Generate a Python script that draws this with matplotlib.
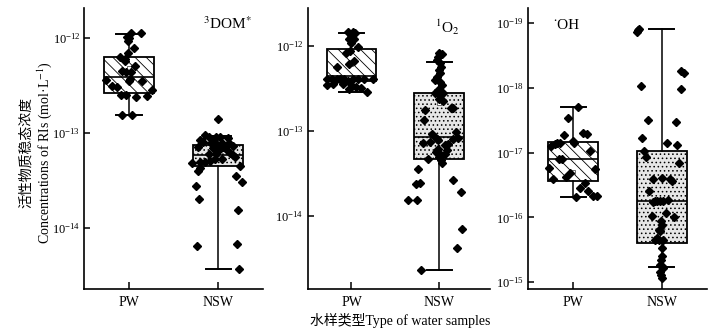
import matplotlib
matplotlib.use("Agg")
import matplotlib.pyplot as plt
from matplotlib.ticker import NullLocator

plt.rcParams["font.family"] = ["Liberation Serif", "Noto Sans CJK SC"]
plt.rcParams["mathtext.fontset"] = "stix"
plt.rcParams["hatch.linewidth"] = 0.6

categories = ["PW", "NSW"]
titles = [r"$^{3}$DOM$^{*}$", r"$^{1}$O$_{2}$", "˙OH"]

dom_ticks = [1e-14, 1e-13, 1e-12]
o2_ticks = [1e-14, 1e-13, 1e-12]
oh_ticks = [1e-19, 1e-18, 1e-17, 1e-16, 1e-15]

# box statistics: q1, median, q3, lower whisker, upper whisker, mean
dom_q1 = [0.261e-12, 0.444e-13]
dom_med = [0.39e-12, 0.583e-13]
dom_q3 = [0.632e-12, 0.755e-13]
dom_lo = [0.155e-12, 0.037e-13]
dom_hi = [1.10e-12, 0.931e-13]
dom_mean = [0.48e-12, 0.60e-13]

o2_q1 = [0.39e-12, 0.0475e-12]
o2_med = [0.442e-12, 0.085e-12]
o2_q3 = [0.914e-12, 0.284e-12]
o2_lo = [0.289e-12, 0.0023e-12]
o2_hi = [1.44e-12, 0.641e-12]
o2_mean = [0.62e-12, 0.214e-12]

oh_q1 = [6.88e-18, 9.48e-18]
oh_med = [1.245e-17, 5.64e-17]
oh_q3 = [2.76e-17, 2.52e-16]
oh_lo = [1.95e-18, 1.24e-19]
oh_hi = [4.89e-17, 5.93e-16]
oh_mean = [2.0e-17, 1.6e-16]

# individual samples (value, jitter offset)
dom_pw = [1.11e-12, 1.11e-12, 1.02e-12, 0.98e-12, 0.93e-12, 0.77e-12, 0.69e-12, 0.62e-12,
          0.60e-12, 0.565e-12, 0.50e-12, 0.45e-12, 0.44e-12, 0.44e-12, 0.37e-12, 0.36e-12,
          0.354e-12, 0.35e-12, 0.31e-12, 0.30e-12, 0.283e-12, 0.25e-12, 0.25e-12, 0.245e-12,
          0.237e-12, 0.155e-12, 0.155e-12]
dom_pw_jit = [0.026, 0.132, -0.026, 0.0, -0.008, 0.053, -0.008, -0.106, -0.045, -0.045, 0.068,
              -0.083, -0.038, 0.023, 0.011, -0.253, 0.0, 0.14, -0.189, -0.14, 0.257, -0.09,
              -0.038, 0.196, 0.083, -0.075, 0.03]
dom_nsw = [1.40e-13, 0.94e-13, 0.916e-13, 0.859e-13, 0.90e-13, 0.90e-13, 0.893e-13, 0.845e-13,
           0.811e-13, 0.78e-13, 0.767e-13, 0.78e-13, 0.792e-13, 0.737e-13, 0.719e-13, 0.69e-13,
           0.679e-13, 0.719e-13, 0.663e-13, 0.612e-13, 0.602e-13, 0.597e-13, 0.588e-13, 0.481e-13,
           0.492e-13, 0.50e-13, 0.509e-13, 0.53e-13, 0.53e-13, 0.565e-13, 0.451e-13, 0.426e-13,
           0.403e-13, 0.354e-13, 0.309e-13, 0.278e-13, 0.203e-13, 0.156e-13, 0.065e-13,
           0.068e-13, 0.037e-13]
dom_nsw_jit = [0.0, -0.143, -0.102, -0.057, -0.019, 0.019, 0.106, -0.208, -0.17, -0.075, -0.026,
               0.038, 0.125, 0.17, -0.226, -0.057, 0.019, 0.057, 0.094, 0.132, -0.102, -0.026,
               0.17, -0.29, -0.208, -0.151, -0.094, -0.038, 0.038, 0.189, 0.245, -0.208, -0.226,
               0.2, 0.264, -0.245, -0.219, 0.226, -0.234, 0.208, 0.238]

o2_pw = [1.45e-12, 1.45e-12, 1.41e-12, 1.29e-12, 1.21e-12, 1.2e-12, 1.09e-12, 0.98e-12, 0.88e-12,
         0.82e-12, 0.665e-12, 0.607e-12, 0.57e-12, 0.407e-12, 0.407e-12, 0.407e-12, 0.407e-12,
         0.407e-12, 0.407e-12, 0.415e-12, 0.415e-12, 0.41e-12, 0.383e-12, 0.383e-12, 0.346e-12,
         0.362e-12, 0.356e-12, 0.337e-12, 0.331e-12, 0.325e-12, 0.316e-12, 0.289e-12]
o2_pw_jit = [-0.038, 0.019, 0.038, -0.008, -0.03, 0.027, 0.0, 0.076, -0.019, -0.065, 0.03, -0.03,
             -0.171, -0.278, -0.228, -0.171, -0.133, -0.087, 0.019, 0.076, 0.141, 0.247, -0.114,
             -0.038, -0.278, -0.209, -0.095, 0.011, 0.057, 0.114, -0.034, 0.179]
o2_nsw = [0.834e-12, 0.797e-12, 0.748e-12, 0.684e-12, 0.624e-12, 0.57e-12, 0.521e-12, 0.484e-12,
          0.427e-12, 0.397e-12, 0.379e-12, 0.346e-12, 0.302e-12, 0.281e-12, 0.269e-12, 0.281e-12,
          0.241e-12, 0.224e-12, 0.189e-12, 0.189e-12, 0.175e-12, 0.136e-12, 0.0973e-12, 0.093e-12,
          0.085e-12, 0.0811e-12, 0.079e-12, 0.0811e-12, 0.0834e-12, 0.0741e-12, 0.0721e-12,
          0.0708e-12, 0.0677e-12, 0.0618e-12, 0.0591e-12, 0.0565e-12, 0.054e-12, 0.054e-12,
          0.0493e-12, 0.0471e-12, 0.0451e-12, 0.0419e-12, 0.0359e-12, 0.0266e-12, 0.0243e-12,
          0.0239e-12, 0.0190e-12, 0.0155e-12, 0.0155e-12, 0.00714e-12, 0.00427e-12, 0.0023e-12]
o2_nsw_jit = [0.0, 0.027, -0.011, -0.03, 0.008, 0.019, -0.004, 0.008, -0.03, -0.042, 0.008, 0.027,
              -0.011, -0.049, 0.008, 0.046, 0.0, 0.046, 0.133, 0.16, -0.156, -0.175, 0.19, -0.087,
              -0.049, -0.03, -0.011, 0.16, 0.217, -0.106, -0.19, 0.103, 0.065, -0.011, 0.084,
              -0.038, 0.008, 0.065, 0.0, -0.125, 0.019, 0.027, -0.24, 0.16, -0.221, -0.259, 0.247,
              -0.354, -0.251, 0.266, 0.198, -0.202]

oh_pw = [1.95e-18, 2.89e-18, 5.05e-18, 5.1e-18, 5.42e-18, 6.63e-18, 7.05e-18, 7.05e-18, 7.05e-18,
         7.48e-18, 7.93e-18, 9.48e-18, 1.245e-17, 1.245e-17, 1.72e-17, 1.82e-17, 2.05e-17,
         2.39e-17, 2.54e-17, 2.93e-17, 3.5e-17, 3.95e-17, 4.72e-17, 4.72e-17, 4.89e-17]
oh_pw_jit = [0.057, -0.057, 0.106, 0.151, -0.102, 0.0, -0.189, -0.151, 0.008, -0.208, -0.253,
             0.189, -0.162, -0.125, -0.272, 0.245, -0.038, -0.083, -0.226, 0.132, 0.075, 0.17,
             0.226, 0.272, 0.03]
oh_nsw = [1.4e-19, 1.31e-19, 1.24e-19, 5.47e-19, 5.94e-19, 9.33e-19, 1.05e-18, 3.14e-18, 3.37e-18,
          6.04e-18, 7.05e-18, 7.75e-18, 9.48e-18, 1.16e-17, 1.44e-17, 2.6e-17, 2.45e-17, 2.6e-17,
          2.76e-17, 3.95e-17, 5.7e-17, 5.64e-17, 5.55e-17, 5.5e-17, 5.55e-17, 5.4e-17, 8.55e-17,
          9.6e-17, 9.87e-17, 1.15e-16, 1.29e-16, 1.55e-16, 1.64e-16, 2.08e-16, 2.21e-16, 2.21e-16,
          2.27e-16, 2.98e-16, 4.0e-16, 4.51e-16, 5.4e-16, 5.72e-16, 6.07e-16, 6.84e-16, 7.69e-16,
          8.67e-16]
oh_nsw_jit = [-0.283, -0.264, -0.253, 0.219, 0.253, -0.238, 0.219, -0.158, 0.158, -0.219, 0.057,
              0.177, -0.2, -0.181, 0.2, -0.102, 0.0, 0.094, 0.121, -0.14, -0.094, -0.075, -0.049,
              -0.019, 0.019, 0.075, 0.045, -0.113, 0.14, -0.008, 0.0, -0.03, -0.019, -0.057,
              -0.026, 0.019, -0.075, 0.008, 0.0, -0.008, -0.019, 0.0, 0.011, -0.019, -0.008, 0.0]


def make_stats(q1, med, q3, lo, hi, mean):
    return [dict(q1=q1[i], med=med[i], q3=q3[i], whislo=lo[i], whishi=hi[i],
                 mean=mean[i], fliers=[]) for i in range(2)]


def draw_panel(ax, stats, groups, yticks, title, title_xy):
    bp = ax.bxp(stats, positions=[1, 2], widths=0.566, patch_artist=True, showmeans=True,
                showfliers=False,
                boxprops=dict(linewidth=1.3, edgecolor="black"),
                medianprops=dict(color="black", linewidth=1.2),
                whiskerprops=dict(color="black", linewidth=1.1),
                capprops=dict(color="black", linewidth=1.4),
                meanprops=dict(marker="s", markersize=3, markerfacecolor="white",
                               markeredgecolor="#555555", markeredgewidth=0.6))
    bp["boxes"][0].set_facecolor("white")
    bp["boxes"][0].set_hatch("\\\\\\")
    bp["boxes"][1].set_facecolor("#e6e6e6")
    bp["boxes"][1].set_hatch("....")
    for b in bp["boxes"]:
        b.set_zorder(2)

    for pos, (vals, jit) in enumerate(groups, start=1):
        xs = [pos + j for j in jit]
        ax.plot(xs, vals, linestyle="none", marker="D", markersize=3.7,
                color="black", zorder=4)

    ax.set_yscale("log")
    ax.set_yticks(yticks)
    ax.yaxis.set_minor_locator(NullLocator())
    ax.set_xticks([1, 2])
    ax.set_xticklabels(categories, fontsize=10)
    ax.tick_params(axis="x", direction="in", length=5, width=1.1, pad=5)
    ax.tick_params(axis="y", direction="in", length=4, width=1.1, labelsize=9, pad=3)
    for side in ["top", "right"]:
        ax.spines[side].set_visible(False)
    for side in ["left", "bottom"]:
        ax.spines[side].set_linewidth(1.2)
    ax.text(title_xy[0], title_xy[1], title, transform=ax.transAxes,
            fontsize=11, ha="center", va="center")


fig = plt.figure(figsize=(7.27, 3.34), dpi=100)
ax1 = fig.add_axes([0.1162, 0.1356, 0.2452, 0.8404])
ax2 = fig.add_axes([0.4232, 0.1356, 0.2508, 0.8404])
ax3 = fig.add_axes([0.7267, 0.1356, 0.2454, 0.8404])

draw_panel(ax1, make_stats(dom_q1, dom_med, dom_q3, dom_lo, dom_hi, dom_mean),
           [(dom_pw, dom_pw_jit), (dom_nsw, dom_nsw_jit)], dom_ticks, titles[0], (0.80, 0.945))
ax1.set_xlim(0.5, 2.5)
ax1.set_ylim(2.32e-15, 2.04e-12)

draw_panel(ax2, make_stats(o2_q1, o2_med, o2_q3, o2_lo, o2_hi, o2_mean),
           [(o2_pw, o2_pw_jit), (o2_nsw, o2_nsw_jit)], o2_ticks, titles[1], (0.765, 0.93))
ax2.set_xlim(0.5, 2.58)
ax2.set_ylim(1.4e-15, 2.8e-12)

draw_panel(ax3, make_stats(oh_q1, oh_med, oh_q3, oh_lo, oh_hi, oh_mean),
           [(oh_pw, oh_pw_jit), (oh_nsw, oh_nsw_jit)], oh_ticks, titles[2], (0.21, 0.936))
ax3.set_xlim(0.49, 2.51)
ax3.set_ylim(1.26e-15, 5.9e-20)

fig.text(37 / 727, 1 - 153 / 334, "活性物质稳态浓度\nConcentrations of RIs (mol·L$^{-1}$)",
         rotation=90, ha="center", va="center", multialignment="center", fontsize=10,
         linespacing=1.15)
fig.text(400 / 727, 1 - 320 / 334, "水样类型Type of water samples", ha="center", va="center",
         fontsize=10)

fig.savefig("out.png", dpi=100)
